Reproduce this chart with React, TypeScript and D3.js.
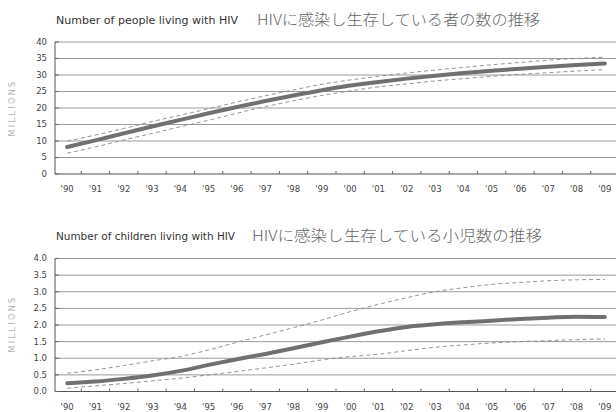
import React from "react";
import * as d3 from "d3";

const years = ["'90","'91","'92","'93","'94","'95","'96","'97","'98","'99","'00","'01","'02","'03","'04","'05","'06","'07","'08","'09"];

const adultCentral = [8.2, 10.2, 12.3, 14.4, 16.4, 18.4, 20.3, 22.1, 23.8, 25.4, 26.8, 27.9, 28.9, 29.8, 30.6, 31.3, 31.9, 32.5, 33.0, 33.5];
const adultUpper = [10.0, 11.8, 13.8, 15.9, 17.8, 19.8, 21.8, 23.7, 25.5, 27.2, 28.5, 29.6, 30.6, 31.5, 32.3, 33.1, 33.8, 34.5, 35.0, 35.4];
const adultLower = [6.3, 8.2, 10.3, 12.3, 14.3, 16.3, 18.4, 20.4, 22.2, 23.8, 25.2, 26.4, 27.3, 28.2, 28.9, 29.6, 30.2, 30.7, 31.2, 31.6];
const adultTicks = [0, 5, 10, 15, 20, 25, 30, 35, 40];

const childCentral = [0.25, 0.30, 0.38, 0.48, 0.62, 0.80, 0.97, 1.13, 1.30, 1.48, 1.65, 1.81, 1.94, 2.02, 2.08, 2.13, 2.18, 2.22, 2.25, 2.24];
const childUpper = [0.55, 0.65, 0.78, 0.92, 1.05, 1.25, 1.48, 1.70, 1.92, 2.15, 2.40, 2.62, 2.82, 3.00, 3.12, 3.22, 3.28, 3.33, 3.36, 3.37];
const childLower = [0.10, 0.17, 0.24, 0.32, 0.40, 0.50, 0.60, 0.71, 0.82, 0.95, 1.05, 1.12, 1.23, 1.33, 1.40, 1.46, 1.50, 1.53, 1.56, 1.58];
const childTicks = [0, 0.5, 1.0, 1.5, 2.0, 2.5, 3.0, 3.5, 4.0];

const x = d3.scaleBand<string>().domain(years).range([53, 619]).padding(0);
const cx = (y: string) => (x(y) as number) + x.bandwidth() / 2;

const FONT = "'DejaVu Sans', 'Open Sans', sans-serif";

type PanelProps = {
  central: number[];
  upper: number[];
  lower: number[];
  ticks: number[];
  max: number;
  yTop: number;
  yBottom: number;
  fmt: (v: number) => string;
  titleEn: string;
  titleEnX: number;
  titleEnY: number;
  titleEnLen: number;
  titleJa: string;
  titleJaX: number;
  titleJaY: number;
  titleJaLen: number;
  millionsY: number;
};

function Panel(p: PanelProps) {
  const y = d3.scaleLinear().domain([0, p.max]).range([p.yBottom, p.yTop]);
  const line = d3
    .line<number>()
    .x((_, i) => cx(years[i]))
    .y((v) => y(v))
    .curve(d3.curveMonotoneX);
  const left = 55;
  const right = 616;
  const boundaries = years.slice(1).map((yr) => x(yr) as number);
  return (
    <g>
      <text x={p.titleEnX} y={p.titleEnY} fontSize={10} fill="#333" fontFamily={FONT} textLength={p.titleEnLen} lengthAdjust="spacingAndGlyphs">
        {p.titleEn}
      </text>
      <text x={p.titleJaX} y={p.titleJaY} fontSize={15} fill="#666" fontFamily="'Noto Sans CJK JP', sans-serif" fontWeight={300} textLength={p.titleJaLen} lengthAdjust="spacingAndGlyphs">
        {p.titleJa}
      </text>
      <text
        transform={`translate(15,${p.millionsY}) rotate(-90)`}
        textAnchor="middle"
        fontSize={8}
        letterSpacing={2.4}
        fill="#b0b0b0"
        fontFamily={FONT}
      >
        MILLIONS
      </text>
      {p.ticks.map((t) => (
        <g key={t}>
          <line x1={left} x2={right} y1={y(t)} y2={y(t)} stroke={t === 0 ? "#555" : "#9a9a9a"} strokeWidth={1} />
          <line x1={left} x2={left + 4} y1={y(t)} y2={y(t)} stroke="#666" strokeWidth={1} />
          <text x={47} y={y(t)} dy="0.35em" textAnchor="end" fontSize={8.5} fill="#444" fontFamily={FONT}>
            {p.fmt(t)}
          </text>
        </g>
      ))}
      <line x1={left} x2={left} y1={y(p.max)} y2={y(0)} stroke="#555" strokeWidth={1} />
      {boundaries.map((b, i) => (
        <line key={i} x1={b} x2={b} y1={y(0) - 3} y2={y(0)} stroke="#666" strokeWidth={1} />
      ))}
      {years.map((yr) => (
        <text key={yr} x={cx(yr)} y={y(0) + 18} textAnchor="middle" fontSize={8.5} fill="#444" fontFamily={FONT}>
          {yr}
        </text>
      ))}
      <path d={line(p.upper) || ""} fill="none" stroke="#888" strokeWidth={0.9} strokeDasharray="4,3" />
      <path d={line(p.lower) || ""} fill="none" stroke="#888" strokeWidth={0.9} strokeDasharray="4,3" />
      <path d={line(p.central) || ""} fill="none" stroke="#707070" strokeWidth={4} strokeLinecap="round" />
    </g>
  );
}

export default function App() {
  return (
    <svg width={616} height={412} style={{ position: "absolute", left: 0, top: 0, background: "#fff" }}>
      <rect width={616} height={412} fill="#fff" />
      <Panel
        central={adultCentral}
        upper={adultUpper}
        lower={adultLower}
        ticks={adultTicks}
        max={40}
        yTop={42}
        yBottom={174}
        fmt={(v) => String(v)}
        titleEn="Number of people living with HIV"
        titleEnX={56}
        titleEnY={24}
        titleEnLen={182}
        titleJa="HIVに感染し生存している者の数の推移"
        titleJaX={257}
        titleJaY={25}
        titleJaLen={283}
        millionsY={108}
      />
      <Panel
        central={childCentral}
        upper={childUpper}
        lower={childLower}
        ticks={childTicks}
        max={4}
        yTop={258.5}
        yBottom={391.5}
        fmt={(v) => v.toFixed(1)}
        titleEn="Number of children living with HIV"
        titleEnX={56}
        titleEnY={240}
        titleEnLen={179}
        titleJa="HIVに感染し生存している小児数の推移"
        titleJaX={252}
        titleJaY={241}
        titleJaLen={290}
        millionsY={324}
      />
    </svg>
  );
}
